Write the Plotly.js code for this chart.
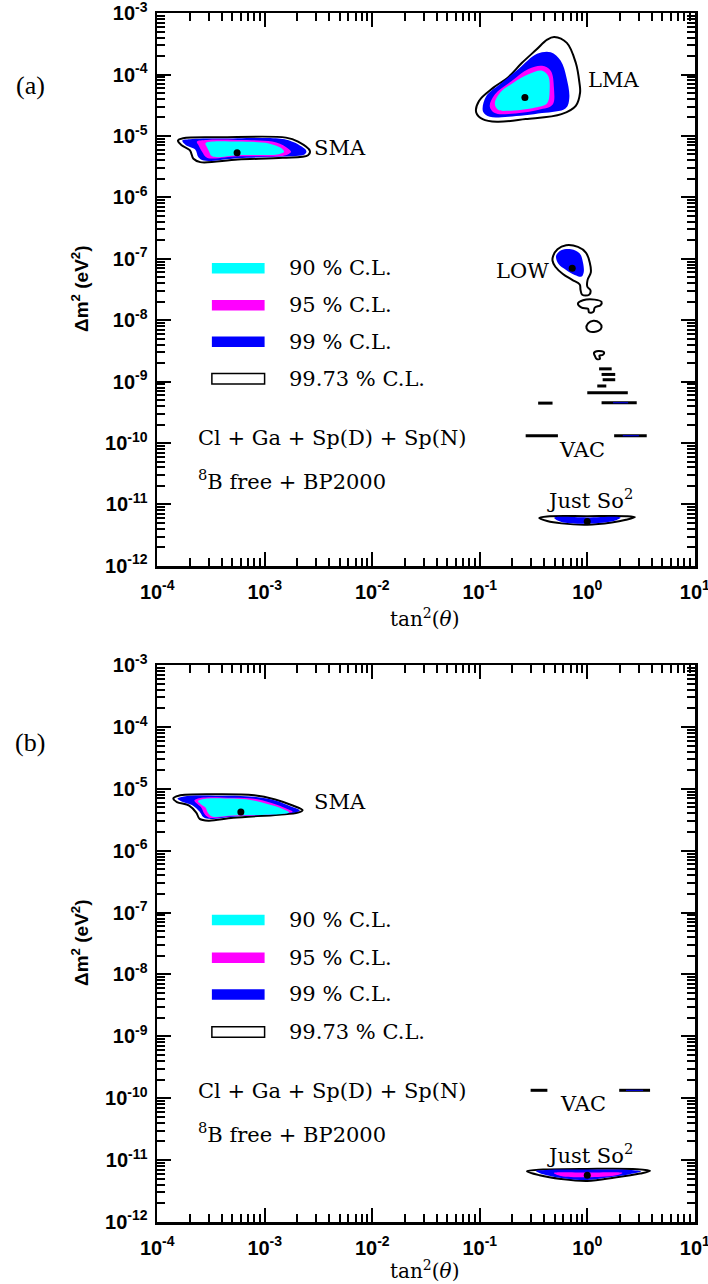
<!DOCTYPE html>
<html><head><meta charset="utf-8">
<script src="https://cdn.plot.ly/plotly-3.0.1.min.js"></script>
<style>html,body{margin:0;padding:0;background:#fff}#chart{width:708px;height:1284px}</style>
</head><body><div id="chart"></div>
<script>
// ---- DATA (log10 of tan^2(theta) and of Delta m^2 / eV^2) ----
// Panel (a)
const aLmaOuterLx=[-0.307,-0.19,-0.107,-0.073,-0.067,-0.107,-0.24,-0.573,-0.84,-0.973,-1.033,-1.007,-0.873,-0.74,-0.607,-0.473,-0.373];
const aLmaOuterLy=[-3.388,-3.485,-3.809,-4.132,-4.294,-4.509,-4.644,-4.725,-4.768,-4.725,-4.617,-4.429,-4.213,-4.051,-3.809,-3.593,-3.431];
const aLma99Lx=[-0.34,-0.247,-0.193,-0.167,-0.2,-0.42,-0.733,-0.907,-0.97,-0.94,-0.813,-0.64,-0.467];
const aLma99Ly=[-3.636,-3.776,-4.051,-4.380,-4.547,-4.628,-4.687,-4.687,-4.601,-4.353,-4.159,-3.911,-3.663];
const aLma95Lx=[-0.42,-0.34,-0.31,-0.323,-0.45,-0.733,-0.86,-0.907,-0.86,-0.703,-0.547];
const aLma95Ly=[-3.857,-3.938,-4.218,-4.493,-4.574,-4.644,-4.628,-4.520,-4.326,-4.105,-3.911];
const aLma90Lx=[-0.42,-0.363,-0.35,-0.373,-0.483,-0.733,-0.83,-0.86,-0.813,-0.687,-0.547];
const aLma90Ly=[-3.938,-4.024,-4.245,-4.466,-4.536,-4.590,-4.574,-4.466,-4.299,-4.132,-3.997];

const aSmaOuterLx=[-3.807,-3.76,-3.407,-2.803,-2.69,-2.58,-2.597,-2.833,-3.25,-3.6,-3.663,-3.697,-3.773];
const aSmaOuterLy=[-5.075,-5.038,-5.022,-5.027,-5.092,-5.243,-5.313,-5.356,-5.383,-5.426,-5.372,-5.232,-5.151];
const aSma99Lx=[-3.767,-3.697,-3.407,-2.833,-2.723,-2.613,-2.627,-2.833,-3.25,-3.567,-3.617,-3.647,-3.733];
const aSma99Ly=[-5.075,-5.054,-5.043,-5.049,-5.108,-5.243,-5.296,-5.334,-5.361,-5.399,-5.345,-5.221,-5.151];
const aSma95Lx=[-3.631,-3.537,-3.25,-2.93,-2.803,-2.755,-2.803,-3.25,-3.537,-3.583,-3.617];
const aSma95Ly=[-5.092,-5.065,-5.065,-5.092,-5.178,-5.259,-5.313,-5.332,-5.354,-5.259,-5.149];
const aSma90Lx=[-3.552,-3.488,-3.25,-2.963,-2.85,-2.82,-2.867,-3.25,-3.488,-3.52,-3.543];
const aSma90Ly=[-5.121,-5.092,-5.092,-5.121,-5.194,-5.259,-5.296,-5.313,-5.332,-5.243,-5.165];

const aLowOuterLx=[-0.317,-0.277,-0.197,-0.087,-0.013,0.023,0.033,0.003,0.0,0.03,0.017,-0.047,-0.063,-0.07,-0.14,-0.227,-0.297,-0.323];
const aLowOuterLy=[-6.952,-6.844,-6.780,-6.807,-6.898,-7.059,-7.220,-7.343,-7.451,-7.515,-7.585,-7.585,-7.504,-7.418,-7.343,-7.247,-7.129,-7.032];
const aLow99Lx=[-0.29,-0.243,-0.15,-0.07,-0.04,-0.033,-0.053,-0.117,-0.197,-0.267];
const aLow99Ly=[-6.952,-6.861,-6.844,-6.914,-7.059,-7.220,-7.290,-7.263,-7.183,-7.086];
const aIsl1Lx=[-0.087,-0.04,0.07,0.133,0.123,0.07,0.057,0.017,0.007,-0.053];
const aIsl1Ly=[-7.730,-7.676,-7.665,-7.702,-7.756,-7.794,-7.864,-7.875,-7.815,-7.794];
const aIsl2Lx=[-0.007,0.007,0.057,0.113,0.133,0.103,0.023];
const aIsl2Ly=[-8.132,-8.052,-8.009,-8.041,-8.116,-8.175,-8.186];
const aIsl3Lx=[0.062,0.103,0.157,0.143,0.113,0.118,0.087,0.07];
const aIsl3Ly=[-8.534,-8.502,-8.524,-8.567,-8.577,-8.631,-8.631,-8.577];
// thin strips: [left lx, right lx, ly]
const aStrips=[[0.11,0.227,-8.792],[0.133,0.26,-8.883],[0.143,0.26,-8.969],[0.093,0.177,-9.071],[0.0,0.377,-9.183],[0.133,0.46,-9.344],[-0.457,-0.323,-9.35],[-0.573,-0.273,-9.881],[0.25,0.553,-9.881]];
const aStrips99=[[0.24,0.38,-9.344],[0.33,0.48,-9.881]];

const aJsOuterLx=[-0.447,-0.373,0.0,0.36,0.443,0.36,0.227,0.0,-0.24,-0.373];
const aJsOuterLy=[-11.222,-11.195,-11.190,-11.190,-11.206,-11.249,-11.292,-11.329,-11.308,-11.270];
const aJs99Lx=[-0.307,0.0,0.31,0.26,0.0,-0.24];
const aJs99Ly=[-11.217,-11.211,-11.211,-11.260,-11.313,-11.287];
const aBestLx=[-0.58,-3.257,-0.14,0.0];
const aBestLy=[-4.375,-5.275,-7.156,-11.276];

// Panel (b)
const bSmaOuterLx=[-3.850,-3.801,-3.458,-3.098,-2.903,-2.740,-2.648,-2.691,-2.870,-3.294,-3.523,-3.605,-3.637,-3.703,-3.817];
const bSmaOuterLy=[-5.156,-5.111,-5.088,-5.105,-5.173,-5.270,-5.344,-5.383,-5.417,-5.468,-5.514,-5.485,-5.383,-5.270,-5.213];
const bSma99Lx=[-3.811,-3.752,-3.458,-3.098,-2.903,-2.756,-2.674,-2.723,-2.870,-3.294,-3.523,-3.572,-3.605,-3.670,-3.778];
const bSma99Ly=[-5.156,-5.122,-5.111,-5.128,-5.190,-5.286,-5.349,-5.383,-5.406,-5.451,-5.485,-5.457,-5.372,-5.270,-5.202];
const bSma95Lx=[-3.654,-3.589,-3.294,-3.098,-2.936,-2.805,-2.740,-2.805,-2.968,-3.294,-3.523,-3.563,-3.589,-3.637];
const bSma95Ly=[-5.190,-5.145,-5.145,-5.162,-5.230,-5.315,-5.372,-5.395,-5.417,-5.440,-5.462,-5.400,-5.304,-5.230];
const bSma90Lx=[-3.621,-3.540,-3.294,-3.131,-2.968,-2.837,-2.772,-2.837,-2.968,-3.294,-3.490,-3.530,-3.549,-3.595];
const bSma90Ly=[-5.200,-5.158,-5.158,-5.180,-5.250,-5.320,-5.383,-5.406,-5.417,-5.429,-5.446,-5.383,-5.304,-5.247];
const bStrips=[[-0.527,-0.371,-9.873],[0.297,0.584,-9.873]];
const bStrips99=[[0.36,0.52,-9.873]];
const bJsOuterLx=[-0.561,-0.411,0.0,0.461,0.584,0.491,0.257,0.0,-0.244,-0.444];
const bJsOuterLy=[-11.182,-11.155,-11.144,-11.149,-11.176,-11.219,-11.284,-11.338,-11.306,-11.246];
const bJs99Lx=[-0.477,-0.377,0.0,0.394,0.501,0.394,0.19,0.0,-0.244,-0.411];
const bJs99Ly=[-11.176,-11.160,-11.155,-11.160,-11.182,-11.230,-11.284,-11.322,-11.289,-11.230];
const bJs95Lx=[-0.311,0.0,0.327,0.257,0.0,-0.244];
const bJs95Ly=[-11.209,-11.203,-11.209,-11.251,-11.278,-11.257];
const bBestLx=[-3.222,0.0];
const bBestLy=[-5.374,-11.246];

// Legend / text
const clLabels=['90 % C.L.','95 % C.L.','99 % C.L.','99.73 % C.L.'];
const clColors=['#00FFFF','#FF00FF','#0000FF','#FFFFFF'];
const aLegendLy=[-7.156,-7.756,-8.352,-8.953];
const bLegendLy=[-7.119,-7.731,-8.323,-8.931];
const xTickExp=[-4,-3,-2,-1,0,1];
const yTickExp=[-12,-11,-10,-9,-8,-7,-6,-5,-4,-3];

// ---- BUILD ----
const P=v=>Math.pow(10,v);
const CYAN='#00FFFF',MAG='#FF00FF',BLUE='#0000FF';
const traces=[];
function poly(lx,ly,fill,lineW,sfx){
  const x=lx.concat([lx[0]]).map(P), y=ly.concat([ly[0]]).map(P);
  traces.push({type:'scatter',mode:'lines',x:x,y:y,fill:'toself',fillcolor:fill,
    line:{color:lineW?'#000':fill,width:lineW||0,shape:'spline',smoothing:1},
    xaxis:'x'+sfx,yaxis:'y'+sfx,hoverinfo:'skip',showlegend:false});
}
function strips(arr,color,w,sfx){
  const x=[],y=[];
  arr.forEach(s=>{x.push(P(s[0]),P(s[1]),null);y.push(P(s[2]),P(s[2]),null);});
  traces.push({type:'scatter',mode:'lines',x:x,y:y,line:{color:color,width:w},
    xaxis:'x'+sfx,yaxis:'y'+sfx,hoverinfo:'skip',showlegend:false});
}
function dots(lx,ly,sfx){
  traces.push({type:'scatter',mode:'markers',x:lx.map(P),y:ly.map(P),
    marker:{color:'#000',size:7},xaxis:'x'+sfx,yaxis:'y'+sfx,hoverinfo:'skip',showlegend:false});
}
// panel a (axes x,y)
poly(aLmaOuterLx,aLmaOuterLy,'#FFFFFF',2,'');
poly(aLma99Lx,aLma99Ly,BLUE,0,'');
poly(aLma95Lx,aLma95Ly,MAG,0,'');
poly(aLma90Lx,aLma90Ly,CYAN,0,'');
poly(aSmaOuterLx,aSmaOuterLy,'#FFFFFF',2,'');
poly(aSma99Lx,aSma99Ly,BLUE,0,'');
poly(aSma95Lx,aSma95Ly,MAG,0,'');
poly(aSma90Lx,aSma90Ly,CYAN,0,'');
poly(aLowOuterLx,aLowOuterLy,'#FFFFFF',2,'');
poly(aLow99Lx,aLow99Ly,BLUE,0,'');
poly(aIsl1Lx,aIsl1Ly,'#FFFFFF',2,'');
poly(aIsl2Lx,aIsl2Ly,'#FFFFFF',2,'');
poly(aIsl3Lx,aIsl3Ly,'#FFFFFF',2,'');
strips(aStrips,'#000',3,'');
strips(aStrips99,BLUE,1,'');
poly(aJsOuterLx,aJsOuterLy,'#FFFFFF',2,'');
poly(aJs99Lx,aJs99Ly,BLUE,0,'');
dots(aBestLx,aBestLy,'');
// panel b (axes x2,y2)
poly(bSmaOuterLx,bSmaOuterLy,'#FFFFFF',2,'2');
poly(bSma99Lx,bSma99Ly,BLUE,0,'2');
poly(bSma95Lx,bSma95Ly,MAG,0,'2');
poly(bSma90Lx,bSma90Ly,CYAN,0,'2');
strips(bStrips,'#000',3,'2');
strips(bStrips99,BLUE,1,'2');
poly(bJsOuterLx,bJsOuterLy,'#FFFFFF',2,'2');
poly(bJs99Lx,bJs99Ly,BLUE,0,'2');
poly(bJs95Lx,bJs95Ly,MAG,0,'2');
dots(bBestLx,bBestLy,'2');

// axes
const minorX=[],minorY=[];
for(let e=-4;e<1;e++)for(let k=2;k<10;k++)minorX.push(k*P(e));
for(let e=-12;e<-3;e++)for(let k=2;k<10;k++)minorY.push(k*P(e));
const tickFont={family:'Liberation Sans, Arial, sans-serif',size:20,color:'#000',weight:'bold'};
const EPS=0.002;
function common(){return {type:'log',showline:true,linewidth:2.5,linecolor:'#000',
  mirror:'allticks',ticks:'inside',ticklen:14,tickwidth:2,tickcolor:'#000',tickmode:'array',
  tickfont:tickFont,showgrid:false,zeroline:false,ticklabeloverflow:'allow'};}
function xax(dom,anchor){return Object.assign(common(),{range:[-4-EPS,1+EPS],domain:dom,anchor:anchor,ticklabelstandoff:6,
  tickvals:xTickExp.map(P),ticktext:xTickExp.map(e=>'10<sup>'+e+'</sup>'),
  minor:{tickmode:'array',tickvals:minorX,ticks:'inside',ticklen:8,tickwidth:2,tickcolor:'#000',showgrid:false}});}
function yax(dom,anchor){return Object.assign(common(),{range:[-12-EPS,-3+EPS],domain:dom,anchor:anchor,ticklabelstandoff:3,
  tickvals:yTickExp.map(P),ticktext:yTickExp.map(e=>'10<sup>'+e+'</sup>'),
  minor:{tickmode:'array',tickvals:minorY,ticks:'inside',ticklen:8,tickwidth:2,tickcolor:'#000',showgrid:false}});}
const XD=[157/708,695/708];
const YA=[1-566/1284,1-13/1284], YB=[1-1222/1284,1-665/1284];

const serif='DejaVu Serif, serif';
const ann=[];
function txt(t,x,y,sfx,xanchor,size){ann.push({text:t,x:x,y:y,xref:'x'+sfx,yref:'y'+sfx,showarrow:false,xanchor:xanchor||'center',yanchor:'middle',
  font:{family:serif,size:size||21,color:'#000'}});}
const shapes=[];
function legend(lys,sfx){
  lys.forEach((ly,i)=>{
    const yf=(ly+12)/9;
    shapes.push({type:'rect',xref:'x'+sfx+' domain',yref:'y'+sfx+' domain',x0:0.102,x1:0.2,y0:yf-0.0095,y1:yf+0.0095,
      fillcolor:clColors[i],line:{color:i===3?'#000':clColors[i],width:i===3?1.5:0}});
    txt(clLabels[i],-2.79,ly,sfx,'left');
  });
  txt('Cl + Ga + Sp(D) + Sp(N)',-3.64,lys[0]-2.76,sfx,'left');
  txt('<sup>8</sup>B free + BP2000',-3.64,lys[0]-3.45,sfx,'left');
}
legend(aLegendLy,'');
legend(bLegendLy,'2');
txt('SMA',-2.297,-5.194,'');
txt('LMA',0.243,-4.089,'');
txt('LOW',-0.607,-7.2,'');
txt('VAC',-0.047,-10.106,'');
txt('Just So<sup>2</sup>',0.027,-10.911,'');
txt('SMA',-2.297,-5.207,'2');
txt('VAC',-0.037,-10.1,'2');
txt('Just So<sup>2</sup>',0.023,-10.896,'2');
// panel letters & axis titles
[['(a)',86],['(b)',742]].forEach(p=>ann.push({text:p[0],xref:'paper',yref:'paper',x:30/708,y:1-p[1]/1284,showarrow:false,
  xanchor:'center',yanchor:'middle',font:{family:'Liberation Serif, serif',size:26,color:'#000'}}));
[[289],[943]].forEach(p=>ann.push({text:'Δm<sup>2</sup> (eV<sup>2</sup>)',xref:'paper',yref:'paper',x:80/708,y:1-p[0]/1284,
  showarrow:false,textangle:-90,xanchor:'center',yanchor:'middle',font:{family:'Liberation Sans, Arial, sans-serif',size:19,weight:'bold',color:'#000'}}));
[[618],[1270]].forEach(p=>ann.push({text:'tan<sup>2</sup>(<i>θ</i>)',xref:'paper',yref:'paper',x:424/708,y:1-p[0]/1284,
  showarrow:false,xanchor:'center',yanchor:'middle',font:{family:serif,size:20,color:'#000'}}));

const layout={width:708,height:1284,margin:{l:0,r:0,t:0,b:0},paper_bgcolor:'#fff',plot_bgcolor:'#fff',showlegend:false,
  xaxis:xax(XD,'y'),yaxis:yax(YA,'x'),xaxis2:xax(XD,'y2'),yaxis2:yax(YB,'x2'),annotations:ann,shapes:shapes};
Plotly.newPlot('chart',traces,layout,{staticPlot:true,displayModeBar:false});
</script></body></html>
